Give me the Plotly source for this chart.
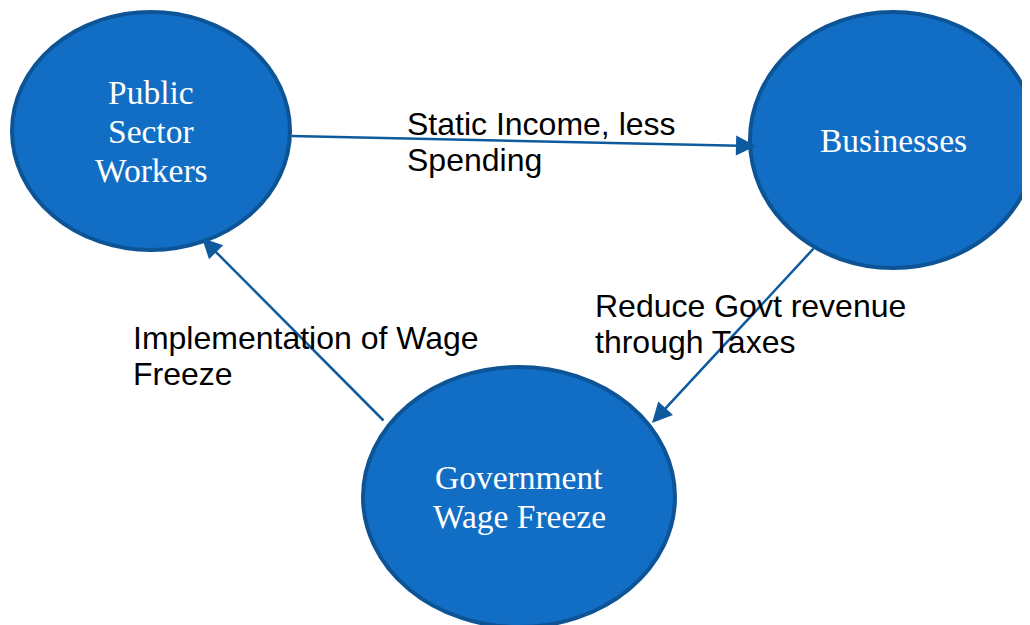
import plotly.graph_objects as go

# Nodes (diagram coordinates, pixel space of the 1030x625 canvas)
node_labels = [["Public", "Sector", "Workers"], ["Businesses"], ["Government", "Wage Freeze"]]
node_cx = [151, 893, 519]
node_cy = [131, 140, 497]
node_rx = [139, 143, 156]
node_ry = [119, 128, 130]

# Edges: start/end points and labels
edge_x0 = [290, 815, 385]
edge_y0 = [136, 247, 422]
edge_x1 = [756, 652, 202]
edge_y1 = [146, 423, 238]
edge_labels = [["Static Income, less", "Spending"],
               ["Reduce Govt revenue", "through Taxes"],
               ["Implementation of Wage", "Freeze"]]
edge_label_x = [405, 593, 131]
edge_label_y = [124, 306, 338]

FILL = "#116EC4"
BORDER = "#0D5496"
ARROW = "#0E5A9E"
LINE_GAP_SERIF = 39
LINE_GAP_SANS = 36
PAGE_OFFSET = 8  # default body margin of the html page
W, H = 1030, 625

fig = go.Figure()
shapes = []
annotations = []

for lbl, cx, cy, rx, ry in zip(node_labels, node_cx, node_cy, node_rx, node_ry):
    shapes.append(dict(type="circle", xref="x", yref="y",
                       x0=cx - rx, x1=cx + rx, y0=cy - ry, y1=cy + ry,
                       fillcolor=FILL, line=dict(color=BORDER, width=4), layer="below"))
    n = len(lbl)
    for i, t in enumerate(lbl):
        yy = cy + (i - (n - 1) / 2) * LINE_GAP_SERIF
        annotations.append(dict(x=cx, y=yy, xref="x", yref="y", text=t, showarrow=False,
                                xanchor="center", yanchor="middle",
                                font=dict(family="Liberation Serif", size=33.5, color="white")))

for x0, y0, x1, y1 in zip(edge_x0, edge_y0, edge_x1, edge_y1):
    annotations.append(dict(x=x1, y=y1, ax=x0, ay=y0, xref="x", yref="y", axref="x", ayref="y",
                            text="", showarrow=True, arrowhead=2, arrowsize=1.6,
                            arrowwidth=2.5, arrowcolor=ARROW, standoff=0))

for lbl, lx, ly in zip(edge_labels, edge_label_x, edge_label_y):
    for i, t in enumerate(lbl):
        annotations.append(dict(x=lx, y=ly + i * LINE_GAP_SANS, xref="x", yref="y", text=t,
                                showarrow=False, xanchor="left", yanchor="middle",
                                font=dict(family="Liberation Sans", size=32, color="black")))

fig.update_layout(
    width=W - PAGE_OFFSET, height=H - PAGE_OFFSET,
    margin=dict(l=0, r=0, t=0, b=0),
    paper_bgcolor="white", plot_bgcolor="white",
    xaxis=dict(range=[PAGE_OFFSET, W], visible=False, fixedrange=True),
    yaxis=dict(range=[H, PAGE_OFFSET], visible=False, fixedrange=True),
    shapes=shapes, annotations=annotations, showlegend=False,
)
fig.write_html("out.html")
